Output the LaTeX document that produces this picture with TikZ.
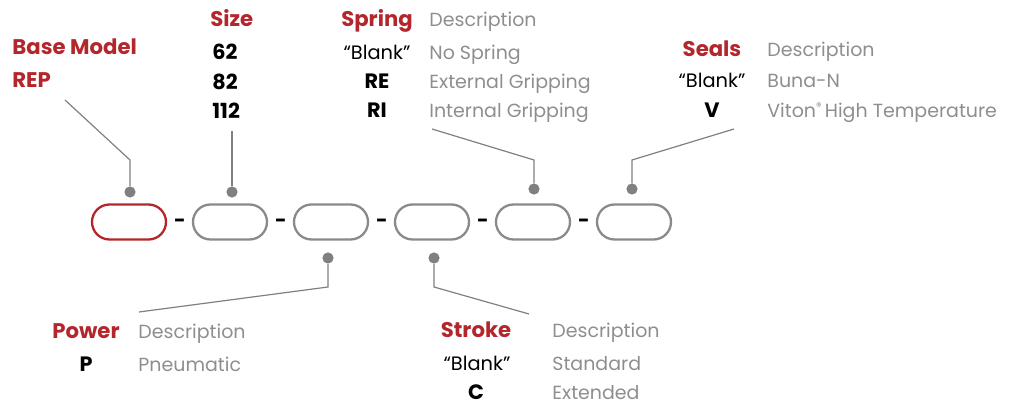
\documentclass[tikz,border=0pt]{standalone}
\usepackage{fontspec}
\setmainfont{Poppins}
\usetikzlibrary{positioning}
\definecolor{codered}{HTML}{B3262C}
\definecolor{descgray}{HTML}{8D8E90}
\definecolor{linegray}{HTML}{808080}
\definecolor{ovalgray}{HTML}{8A8A8C}

\tikzset{
  slot/.style = {draw=ovalgray, line width=1.15pt, rounded corners=8.75pt,
    minimum width=37pt, minimum height=17.5pt, inner sep=0pt},
  pin/.style = {circle, fill=linegray, inner sep=0pt, minimum size=5.6pt},
  leader/.style = {draw=linegray, line width=0.6pt},
  head/.style = {inner sep=0pt, text=codered, font=\fontsize{10.6}{12}\selectfont\bfseries},
  code/.style = {inner sep=0pt, text=black, font=\fontsize{10.4}{12}\selectfont\bfseries},
  blank/.style = {inner sep=0pt, text=black, font=\fontsize{9.7}{11}\selectfont},
  desc/.style = {inner sep=0pt, anchor=base west, text=descgray, font=\fontsize{9.5}{11}\selectfont},
  sep/.style = {inner sep=0pt, anchor=base, font=\fontsize{10}{11}\selectfont\bfseries}
}

\begin{document}
\begin{tikzpicture}[x=0.5pt, y=-0.5pt]
	\useasboundingbox (0,0) rectangle (1019,405);
	% the six code boxes
	\node [slot, draw=codered] (o1) at (129,222) {};
	\node [slot] (o2) at (230,222) {};
	\node [slot] (o3) at (331,222) {};
	\node [slot] (o4) at (432,222) {};
	\node [slot] (o5) at (533,222) {};
	\node [slot] (o6) at (634,222) {};
	\node [sep] (s1) at (180,228) {-};
	\node [sep] (s2) at (281,228) {-};
	\node [sep] (s3) at (382,228) {-};
	\node [sep] (s4) at (483,228) {-};
	\node [sep] (s5) at (584,228) {-};
	% pins
	\node [pin] (d1) at (130,192) {};
	\node [pin] (d2) at (232,192) {};
	\node [pin] (d3) at (328,258) {};
	\node [pin] (d4) at (434,258) {};
	\node [pin] (d5) at (534,189) {};
	\node [pin] (d6) at (632,189) {};
	% bends and free ends of the leaders
	\coordinate (b1) at (130,160);
	\coordinate (e1) at (65,100);
	\coordinate (e2) at (232,131);
	\coordinate (b3) at (328,287);
	\coordinate (e3) at (139,312);
	\coordinate (b4) at (434,287);
	\coordinate (e4) at (529,314);
	\coordinate (b5) at (534,160);
	\coordinate (e5) at (432,129);
	\coordinate (b6) at (632,160);
	\coordinate (e6) at (734,129);
	\draw [leader] (d1) -- (b1) -- (e1);
	\draw [leader] (d2) -- (e2);
	\draw [leader] (d3) -- (b3) -- (e3);
	\draw [leader] (d4) -- (b4) -- (e4);
	\draw [leader] (d5) -- (b5) -- (e5);
	\draw [leader] (d6) -- (b6) -- (e6);
	% base model
	\node [head, anchor=base west] (base) at (12,55) {Base Model};
	\node [head, anchor=base west] (rep) at (12,88) {REP};
	% size
	\node [head, anchor=base west] (size) at (210,27) {Size};
	\node [code, anchor=base west] (s62) at (212,60) {62};
	\node [code, anchor=base west] (s82) at (212,90) {82};
	\node [code, anchor=base west] (s112) at (212,119) {112};
	% spring
	\node [head, anchor=base] (spring) at (377,27) {Spring};
	\node [desc] (springdesc) at (429,27) {Description};
	\node [blank, anchor=base] (spblank) at (377,60) {“Blank”};
	\node [desc] (spnone) at (429,60) {No Spring};
	\node [code, anchor=base] (spre) at (377,89) {RE};
	\node [desc] (spext) at (429,89) {External Gripping};
	\node [code, anchor=base] (spri) at (377,118) {RI};
	\node [desc] (spint) at (429,118) {Internal Gripping};
	% seals
	\node [head, anchor=base] (seals) at (712,57) {Seals};
	\node [desc] (sealsdesc) at (767,57) {Description};
	\node [blank, anchor=base] (seblank) at (712,88) {“Blank”};
	\node [desc] (sebuna) at (767,88) {Buna-N};
	\node [code, anchor=base] (sev) at (712,118) {V};
	\node [desc] (seviton) at (767,118) {Viton\raisebox{0.42em}{\fontsize{5.5}{6}\selectfont ®}\,High Temperature};
	% power
	\node [head, anchor=base] (power) at (86,339) {Power};
	\node [desc] (powerdesc) at (138,339) {Description};
	\node [code, anchor=base] (pop) at (86,372) {P};
	\node [desc] (popneu) at (138,372) {Pneumatic};
	% stroke
	\node [head, anchor=base] (stroke) at (476,338) {Stroke};
	\node [desc] (strokedesc) at (552,338) {Description};
	\node [blank, anchor=base] (stblank) at (477,371) {“Blank”};
	\node [desc] (ststd) at (552,371) {Standard};
	\node [code, anchor=base] (stc) at (476,400) {C};
	\node [desc] (stext) at (552,400) {Extended};
\end{tikzpicture}
\end{document}
